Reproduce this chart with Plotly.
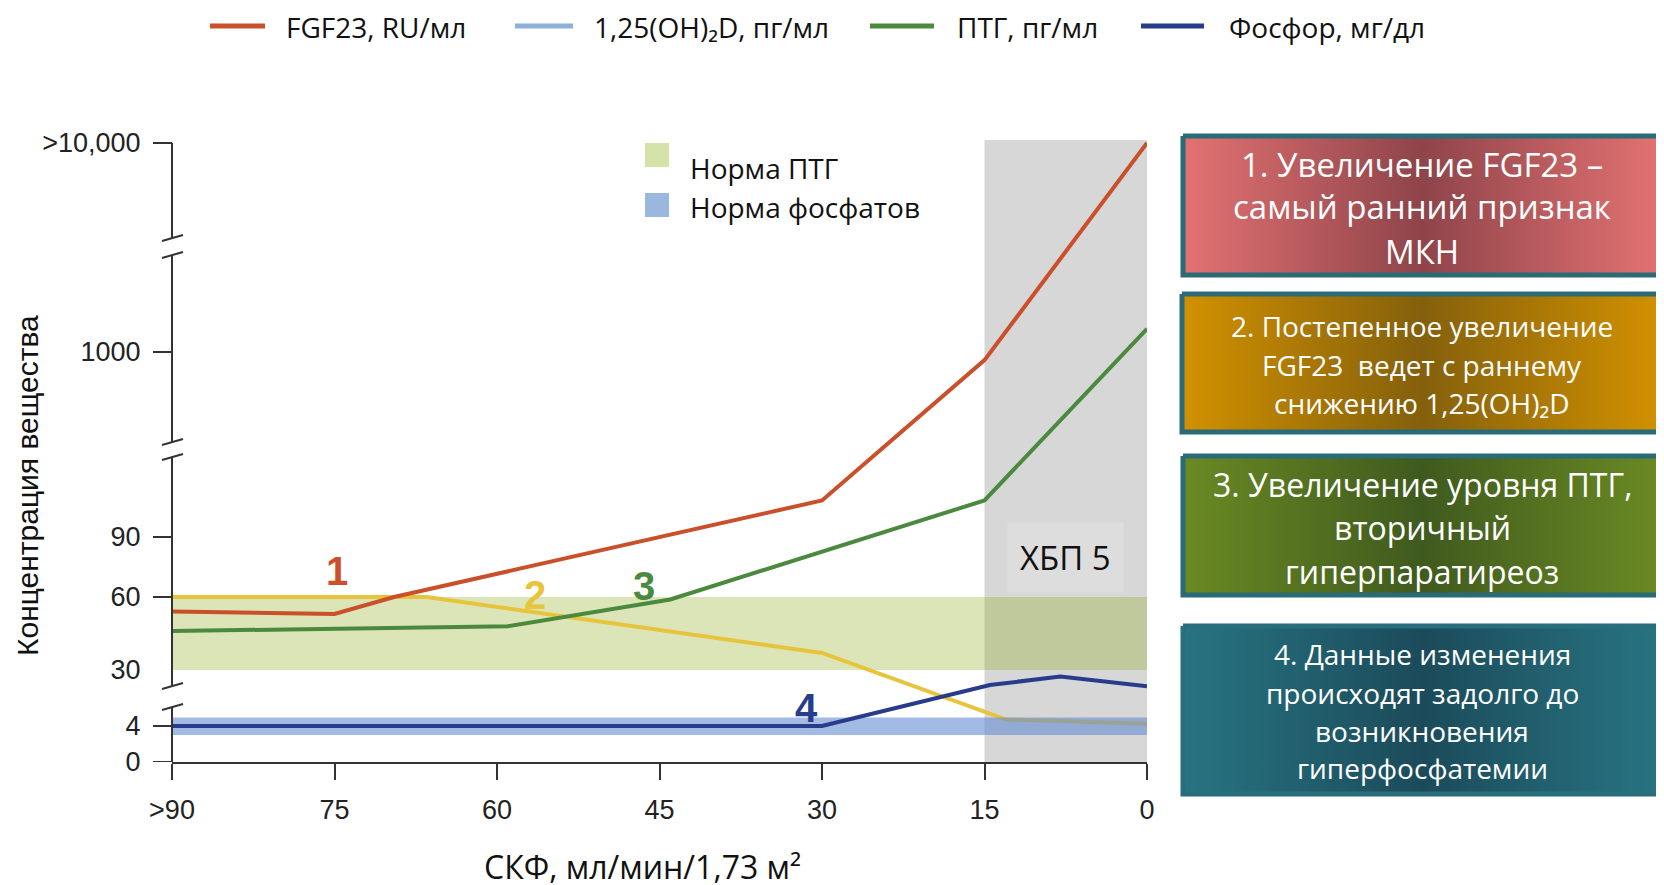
import numpy as np
import plotly.graph_objects as go

W, H = 1664, 885

# ---------------- data ----------------
gfr_ticks = [90, 75, 60, 45, 30, 15, 0]
gfr_labels = [">90", "75", "60", "45", "30", "15", "0"]

conc_ticks = [0, 4, 30, 60, 90, 1000, 10000]
conc_labels = ["0", "4", "30", "60", "90", "1000", ">10,000"]
conc_tick_marks = [0, 4, 60, 90, 1000, 10000]

fgf23_gfr = [90, 75, 69.5, 30, 15, 0]
fgf23_val = [54, 53, 60, 270, 960, 10000]

vitd_gfr = [90, 75, 66.5, 30, 13, 0]
vitd_val = [60, 60, 60, 37, 7, 5]

pth_gfr = [90, 59, 44, 15, 0]
pth_val = [46, 48, 59, 270, 2000]

phos_gfr = [90, 30, 14.5, 8, 0]
phos_val = [4, 4, 23, 27, 22.5]

pth_norm = [30, 60]
phos_norm = [3, 8]
ckd5_gfr = [15, 0]

series_names = ["FGF23, RU/мл", "1,25(OH)₂D, пг/мл", "ПТГ, пг/мл", "Фосфор, мг/дл"]
legend_colors = ["#c9502a", "#8cb0d8", "#4b8a3e", "#283c8c"]
norm_names = ["Норма ПТГ", "Норма фосфатов"]
step_labels = ["1", "2", "3", "4"]

box_texts = [
    ["1. Увеличение FGF23 –", "самый ранний признак", "МКН"],
    ["2. Постепенное увеличение", "FGF23  ведет с раннему", "снижению 1,25(OH)₂D"],
    ["3. Увеличение уровня ПТГ,", "вторичный", "гиперпаратиреоз"],
    ["4. Данные изменения", "происходят задолго до", "возникновения", "гиперфосфатемии"],
]

# ---------------- scale for the broken axis ----------------
conc_pos = [0, 36, 92, 165, 225, 410, 619]
Y_TOP = 622


def T(v):
    return np.interp(np.asarray(v, dtype=float), conc_ticks, conc_pos)


# pixel geometry (reference pixels; the page adds an 8px body margin)
OFF = 8
AX_L, AX_R, AX_B, AX_T = 172, 1147, 762, 140


def fx(px):
    return (px - OFF) / W


def fy(py):
    return 1 - (py - OFF) / H


RED, YEL, GRN, NAVY = "#c9502a", "#e8c43c", "#4b8a3e", "#283c8c"
AXC = "#333333"
SANS = "Liberation Sans, Arial, sans-serif"
HUM = "Open Sans, Noto Sans, sans-serif"

fig = go.Figure()

fig.add_trace(go.Scatter(x=vitd_gfr, y=T(vitd_val), mode="lines",
                         line=dict(color=YEL, width=4), showlegend=False, hoverinfo="skip"))
fig.add_trace(go.Scatter(x=[gfr_ticks[0], gfr_ticks[-1], gfr_ticks[-1], gfr_ticks[0]],
                         y=T([phos_norm[0], phos_norm[0], phos_norm[1], phos_norm[1]]),
                         fill="toself", fillcolor="rgba(100,140,210,0.6)", mode="lines",
                         line=dict(width=0), showlegend=False, hoverinfo="skip"))
fig.add_trace(go.Scatter(x=pth_gfr, y=T(pth_val), mode="lines",
                         line=dict(color=GRN, width=4), showlegend=False, hoverinfo="skip"))
fig.add_trace(go.Scatter(x=fgf23_gfr, y=T(fgf23_val), mode="lines",
                         line=dict(color=RED, width=4), showlegend=False, hoverinfo="skip"))
fig.add_trace(go.Scatter(x=phos_gfr, y=T(phos_val), mode="lines",
                         line=dict(color=NAVY, width=4), showlegend=False, hoverinfo="skip"))

shapes = []
shapes.append(dict(type="rect", xref="x", yref="y", x0=ckd5_gfr[0], x1=ckd5_gfr[1], y0=0, y1=Y_TOP,
                   fillcolor="#d7d7d7", line=dict(width=0), layer="below"))
shapes.append(dict(type="rect", xref="x", yref="y", x0=gfr_ticks[0], x1=gfr_ticks[-1],
                   y0=float(T(pth_norm[0])), y1=float(T(pth_norm[1])),
                   fillcolor="rgba(140,170,20,0.3)", line=dict(width=0), layer="below"))

# broken y axis
segments = [(0, 55), (76, 305), (320, 507), (524, 619)]
for a, b in segments:
    shapes.append(dict(type="line", xref="paper", yref="y", x0=fx(AX_L), x1=fx(AX_L), y0=a, y1=b,
                       line=dict(color=AXC, width=2)))
for p in [55, 76, 305, 320, 507, 524]:
    shapes.append(dict(type="line", xref="paper", yref="y", x0=fx(AX_L - 10), x1=fx(AX_L + 11),
                       y0=p - 3, y1=p + 3, line=dict(color=AXC, width=2)))
for v in conc_tick_marks:
    shapes.append(dict(type="line", xref="paper", yref="y", x0=fx(AX_L - 19), x1=fx(AX_L),
                       y0=float(T(v)), y1=float(T(v)), line=dict(color=AXC, width=2)))

# top legend
LEG_Y = 27
leg_line_x = [(210, 265), (515, 573), (870, 934), (1141, 1204)]
leg_text_x = [285, 593, 956, 1228]
for (a, b), c in zip(leg_line_x, legend_colors):
    shapes.append(dict(type="line", xref="paper", yref="paper", x0=fx(a), x1=fx(b),
                       y0=fy(LEG_Y - 1), y1=fy(LEG_Y - 1), line=dict(color=c, width=5)))

sq = [(143, 167, "#d5e3a8"), (193, 217, "#9ab7de")]
for y0, y1, c in sq:
    shapes.append(dict(type="rect", xref="paper", yref="paper", x0=fx(645), x1=fx(669), y0=fy(y1), y1=fy(y0),
                       fillcolor=c, line=dict(width=0)))

annotations = []


def txt(x, y, text, size, color="#111", family=HUM, xanchor="center", **kw):
    d = dict(xref="paper", yref="paper", x=fx(x), y=fy(y), text=text, showarrow=False,
             xanchor=xanchor, yanchor="middle", font=dict(family=family, size=size, color=color))
    d.update(kw)
    annotations.append(d)


for name, tx in zip(series_names, leg_text_x):
    txt(tx, LEG_Y, name, 28, xanchor="left", borderpad=0)
for name, yc in zip(norm_names, [168, 207]):
    txt(688, yc, name, 28, xanchor="left")

step_pos = [(74.8, 191, RED), (56.5, 167, YEL), (46.4, 176, GRN), (31.4, 54, NAVY)]
for lab, (xx, yy, c) in zip(step_labels, step_pos):
    annotations.append(dict(xref="x", yref="y", x=xx, y=yy, text=lab, showarrow=False,
                            xanchor="center", yanchor="middle",
                            font=dict(family=SANS, size=40, color=c, weight="bold")))

txt(1065, 557, "ХБП 5", 33, bgcolor="#dddddd", borderpad=12)
txt(27, 486, "Концентрация вещества", 30, family=SANS, textangle=-90)
txt(642, 866, "СКФ, мл/мин/1,73 м²", 32)

boxes = [
    dict(x0=1183, x1=1661, y0=136, y1=275, edge="#e37272", center="#8e444a", border="#2b6a77", size=33,
         ys=[164, 207, 251]),
    dict(x0=1182, x1=1661, y0=294, y1=432, edge="#d29100", center="#84600c", border="#2b6a77", size=28,
         ys=[326, 365, 403]),
    dict(x0=1183, x1=1661, y0=456, y1=595, edge="#6a8a23", center="#3f5a1e", border="#2b6a77", size=32,
         ys=[484, 527, 571]),
    dict(x0=1183, x1=1661, y0=626, y1=794, edge="#287482", center="#1b4b5a", border="#286e7c", size=28,
         ys=[654, 693, 731, 768]),
]
for b, lines in zip(boxes, box_texts):
    fig.add_trace(go.Scatter(
        x=[b["x0"] - OFF, b["x1"] - OFF, b["x1"] - OFF, b["x0"] - OFF, b["x0"] - OFF],
        y=[b["y0"] - OFF, b["y0"] - OFF, b["y1"] - OFF, b["y1"] - OFF, b["y0"] - OFF],
        xaxis="x2", yaxis="y2", mode="lines", fill="toself",
        fillgradient=dict(type="horizontal",
                          colorscale=[[0, b["edge"]], [0.5, b["center"]], [1, b["edge"]]]),
        line=dict(color=b["border"], width=5), showlegend=False, hoverinfo="skip"))
    xc = (b["x0"] + b["x1"]) / 2
    for t, yc in zip(lines, b["ys"]):
        txt(xc, yc, t, b["size"], color="white")

fig.update_layout(
    width=W, height=H, template="none",
    margin=dict(l=0, r=0, t=0, b=0, pad=0),
    paper_bgcolor="white", plot_bgcolor="rgba(0,0,0,0)",
    showlegend=False,
    xaxis=dict(domain=[fx(AX_L), fx(AX_R)], range=[90, 0], tickvals=gfr_ticks, ticktext=gfr_labels,
               showgrid=False, zeroline=False, showline=True, linecolor=AXC, linewidth=2,
               ticks="outside", ticklen=16, tickwidth=2, tickcolor=AXC, ticklabelstandoff=7,
               tickfont=dict(family=SANS, size=27, color="#222"), fixedrange=True),
    yaxis=dict(domain=[fy(AX_B), fy(AX_T)], range=[0, Y_TOP], tickvals=list(T(conc_ticks)),
               ticktext=conc_labels, showgrid=False, zeroline=False, showline=False,
               ticks="outside", ticklen=19, tickcolor="rgba(0,0,0,0)", ticklabelstandoff=6,
               tickfont=dict(family=SANS, size=27, color="#222"), fixedrange=True),
    xaxis2=dict(domain=[0, 1], range=[0, W], visible=False, anchor="y2", fixedrange=True),
    yaxis2=dict(domain=[0, 1], range=[H, 0], visible=False, anchor="x2", fixedrange=True),
    shapes=shapes, annotations=annotations,
)

fig.write_html("out.html")
